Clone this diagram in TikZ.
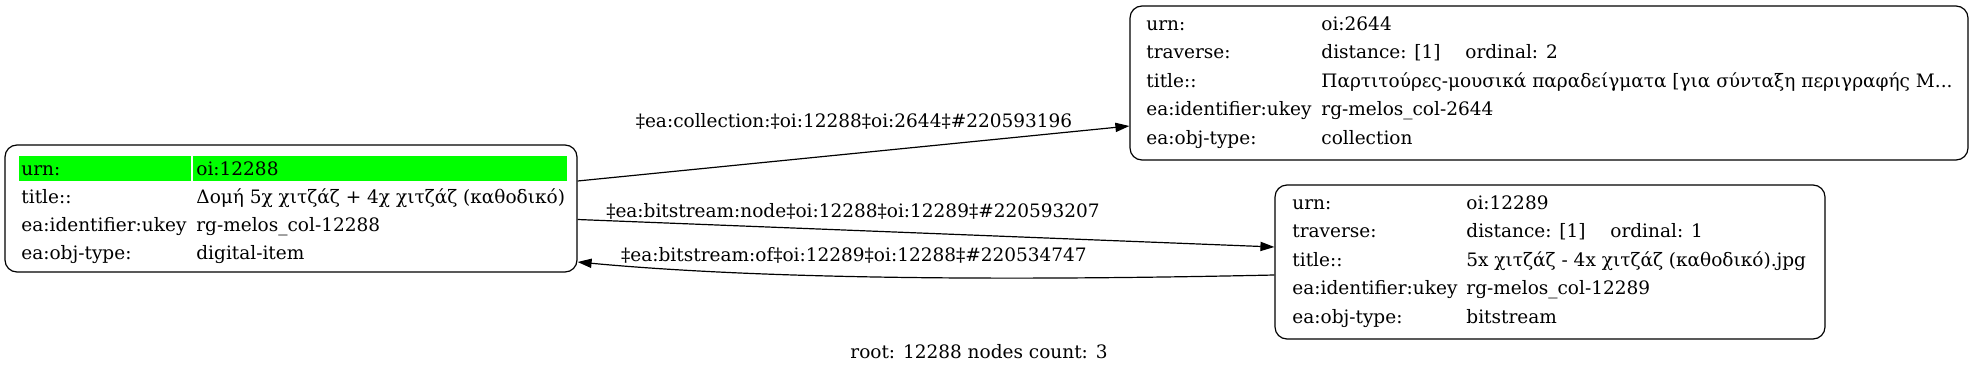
\documentclass[tikz,border=0pt]{standalone}
\usepackage{fontspec}
\setmainfont{DejaVu Serif}
\usepackage{xcolor}
\definecolor{urngreen}{HTML}{00FF00}
\definecolor{ink}{HTML}{000000}
\usetikzlibrary{arrows.meta,positioning}
\tikzset{
  >={Triangle[length=7pt,width=4.6pt]},
  recbox/.style ={draw=ink,rounded corners=6pt,line width=0.6pt,inner sep=0pt},
  keytxt/.style ={anchor=base west,inner sep=0pt,font=\rowfont},
  valtxt/.style ={anchor=base west,inner sep=0pt,font=\rowfont},
  elabel/.style ={anchor=base,inner sep=0pt,font=\rowfont},
  link/.style   ={->,draw=ink,line width=0.6pt},
}
\newcommand{\rowfont}{\fontsize{9.25}{11}\selectfont}
\newcommand{\trav}[1]{\makebox[72pt][l]{distance: [1]}ordinal: #1}
\newcommand{\colltitle}{Παρτιτούρες-μουσικά παραδείγματα [για σύνταξη περιγραφής Μ...}

\begin{document}
\begin{tikzpicture}[x=0.5pt,y=-0.5pt]
\useasboundingbox (0,0) rectangle (1976,375);
% root item
\node[recbox,minimum width=286pt,minimum height=63.5pt] (item) at (291,208.5) {};
\fill[urngreen] (19,156) rectangle (191,181);
\fill[urngreen] (193,156) rectangle (567,181);
\foreach \k/\v [count=\i] in {urn:/oi:12288,
    title::/Δομή 5χ χιτζάζ + 4χ χιτζάζ (καθοδικό),
    ea:identifier:ukey/rg-melos\_col-12288,
    ea:obj-type:/digital-item}
  {\node[keytxt] (item-k\i) at (21,147+28*\i) {\k};
   \node[valtxt] (item-v\i) at (196,147+28*\i) {\v};}
% collection
\node[recbox,minimum width=419pt,minimum height=77pt] (coll) at (1549,83) {};
\foreach \k/\v [count=\i] in {urn:/oi:2644,
    traverse:/\trav{2},
    title::/\colltitle,
    ea:identifier:ukey/rg-melos\_col-2644,
    ea:obj-type:/collection}
  {\node[keytxt] (coll-k\i) at (1146,1.5+28.5*\i) {\k};
   \node[valtxt] (coll-v\i) at (1321,1.5+28.5*\i) {\v};}
% bitstream
\node[recbox,minimum width=275pt,minimum height=77pt] (bits) at (1550,262) {};
\foreach \k/\v [count=\i] in {urn:/oi:12289,
    traverse:/\trav{1},
    title::/5x χιτζάζ - 4x χιτζάζ (καθοδικό).jpg,
    ea:identifier:ukey/rg-melos\_col-12289,
    ea:obj-type:/bitstream}
  {\node[keytxt] (bits-k\i) at (1292,180.5+28.5*\i) {\k};
   \node[valtxt] (bits-v\i) at (1466,180.5+28.5*\i) {\v};}
% links
\draw[link] ([yshift=13.75pt]item.east) -- ([yshift=-21.5pt]coll.west);
\node[elabel] (lab-coll) at (854,127.5) {‡ea:collection:‡oi:12288‡oi:2644‡\#220593196};
\draw[link] ([yshift=-5.5pt]item.east) -- ([yshift=7.5pt]bits.west);
\node[elabel] (lab-node) at (853,217) {‡ea:bitstream:node‡oi:12288‡oi:12289‡\#220593207};
\draw[link] ([yshift=-6.5pt]bits.west) .. controls (1000,281) and (760,279) .. ([yshift=-26.75pt]item.east);
\node[elabel] (lab-of) at (854,261) {‡ea:bitstream:of‡oi:12289‡oi:12288‡\#220534747};
% footer
\node[elabel] (foot) at (979,358) {root: 12288 nodes count: 3};
\end{tikzpicture}
\end{document}
